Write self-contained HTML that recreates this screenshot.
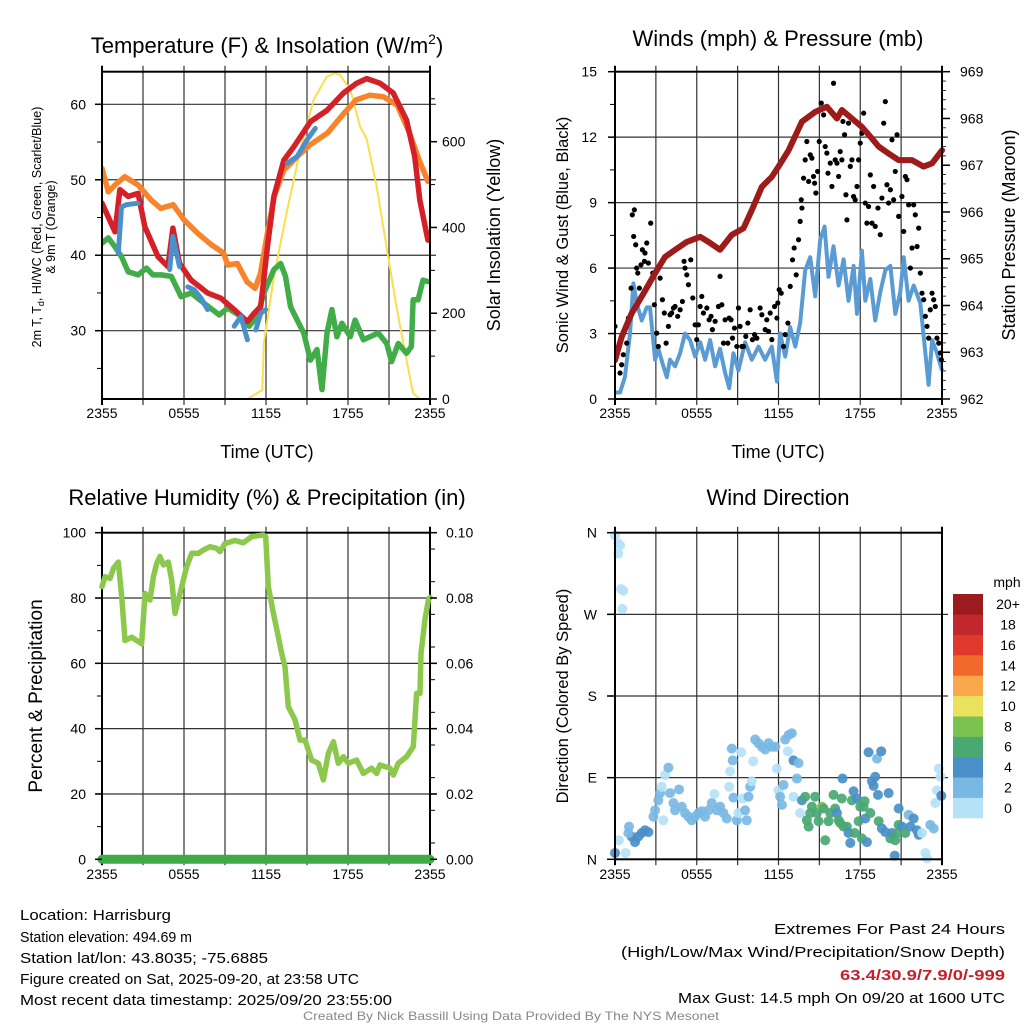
<!DOCTYPE html>
<html><head><meta charset="utf-8"><title>NYS Mesonet Harrisburg</title>
<style>
html,body{margin:0;padding:0;background:#fff;}
svg{display:block;font-family:"Liberation Sans",sans-serif;}
</style></head>
<body>
<svg id="chart" width="1024" height="1024" viewBox="0 0 1024 1024" xmlns="http://www.w3.org/2000/svg"></svg>
<script>
// ---------- Panel 1: temperature ----------
const t9mHours=[0,0.46,0.95,1.67,2.64,3.6,4.3,5.2,6.0,7.0,8.0,8.9,9.2,9.9,10.6,11.2,11.6,12.1,12.6,13.3,14.3,15.2,16.5,17.7,18.6,19.6,20.6,21.6,22.5,23.2,23.85];
const t9mValues=[51.5,48.4,49.3,50.4,49.3,47.3,46.2,46.7,44.7,42.9,41.4,40.3,38.7,38.9,36.5,35.6,37.6,42.9,47.8,51.3,53.1,54.6,56.2,58.8,60.6,61.2,61.0,59.9,56.2,52.6,49.8];
const t2mHours=[0,0.95,1.31,1.92,2.64,3.13,4.1,4.82,5.19,5.67,6.52,7.73,8.7,9.67,10.64,11.13,11.61,12.1,12.58,13.31,14.04,15.25,16.46,17.67,18.64,19.37,20.34,21.31,22.28,22.88,23.25,23.85];
const t2mValues=[46.9,43.1,48.7,47.8,48.2,43.8,39.8,38.5,43.6,38.9,36.7,35.0,34.3,32.8,31.2,32.3,33.2,41.1,47.8,52.6,54.4,57.7,59.2,61.5,62.8,63.4,62.8,61.5,57.9,53.1,47.3,42.0];
const wcSegments=[
 {hours:[1.19,1.43,1.79,2.64],values:[40.3,46.4,46.7,46.9]},
 {hours:[4.95,5.19,5.67],values:[38.1,42.5,38.5]},
 {hours:[6.28,6.76,7.25,7.73],values:[35.8,35.4,34.3,32.8]},
 {hours:[9.67,10.16,10.64],values:[30.6,31.9,28.8]},
 {hours:[11.25,11.61,11.98],values:[30.1,32.3,32.8]},
 {hours:[13.55,14.28,15.01,15.61],values:[52.2,53.1,55.3,56.8]}
];
const tdHours=[0,0.46,0.95,1.43,1.92,2.64,3.25,3.73,4.34,5.07,5.79,6.52,7.49,8.58,9.19,10.16,10.76,11.37,11.85,12.58,13.07,13.43,13.79,14.28,14.76,15.25,15.73,16.1,16.46,16.82,17.19,17.55,18.16,18.52,19.13,19.61,20.22,20.83,21.19,21.68,22.28,22.64,22.76,23.13,23.49,23.85];
const tdValues=[41.6,42.3,41.1,39.8,37.8,37.4,38.3,37.4,37.4,37.2,34.5,35.0,33.6,32.1,33.0,31.9,30.6,31.9,35.0,38.1,38.9,37.2,33.2,31.4,29.7,26.1,27.5,22.2,29.7,32.8,29.2,31.0,29.2,31.4,28.8,29.2,29.7,28.3,25.9,28.3,27.0,27.9,34.1,34.1,36.7,36.5];
const solarHours=[0,10.64,11.73,11.85,12.58,13.55,14.52,15.5,16.46,17.1,17.43,18.16,18.88,19.37,20.1,20.82,21.55,22.28,22.76,23.25,24];
const solarValues=[0,0,21,131,285,441,582,699,752,760,755,722,636,606,495,355,215,91,14,0,0];
const tTicks=[30,40,50,60];
const solarTicks=[0,200,400,600];
const timeTickLabels=["2355","0555","1155","1755","2355"];

// ---------- Panel 2: winds & pressure ----------
const windHours=[0,0.37,0.73,1.1,1.35,1.59,1.96,2.33,2.57,2.94,3.18,3.55,3.8,4.04,4.41,4.78,5.14,5.51,5.88,6.25,6.61,6.98,7.35,7.71,8.08,8.38,8.69,9.06,9.55,10.04,10.53,11.02,11.51,11.88,12.12,12.49,12.86,13.23,13.59,13.96,14.33,14.69,15.06,15.38,15.67,16.04,16.41,16.78,17.14,17.51,17.76,18.12,18.37,18.74,19.1,19.47,19.84,20.21,20.57,20.94,21.19,21.55,21.92,22.41,22.78,23.02,23.27,23.63,24];
const windValues=[0.3,0.3,1.0,3.0,5.3,4.4,3.6,4.2,4.2,1.8,2.3,1.5,1.0,1.8,1.5,2.1,3.0,2.7,1.95,2.6,1.8,2.7,1.5,2.3,1.2,0.5,2.1,1.3,2.6,1.8,2.4,1.8,2.4,0.8,3.0,1.95,3.3,2.4,3.5,5.9,6.5,4.7,7.3,7.9,5.6,7.0,5.2,6.4,4.5,6.1,3.9,6.8,4.5,5.5,3.6,4.9,5.9,6.1,3.9,4.9,6.5,4.5,5.2,4.4,2.1,0.65,2.7,2.1,1.3];
const gustHours=[0,0.12,0.37,0.49,0.61,0.86,0.98,1.18,1.27,1.42,1.37,1.52,1.59,1.67,1.79,1.91,2.01,2.2,2.33,2.16,2.45,2.62,2.77,2.89,3.06,3.18,3.31,3.48,3.62,3.75,3.92,4.04,4.16,4.29,4.41,4.6,4.78,4.95,5.07,5.14,5.27,5.39,5.56,5.71,5.88,6.0,6.12,6.25,6.37,6.49,6.74,6.91,7.05,7.15,7.35,7.59,7.71,7.84,7.96,8.08,8.28,8.38,8.52,8.62,8.77,8.94,9.06,9.18,9.31,9.43,9.6,9.75,9.92,10.09,10.24,10.41,10.65,10.78,11.02,11.14,11.27,11.39,11.51,11.71,11.88,11.95,12.05,12.2,12.37,12.49,12.69,12.86,13.03,13.15,13.3,13.47,13.59,13.72,13.67,13.84,13.96,14.08,14.21,14.33,14.45,14.57,14.65,14.74,14.87,14.99,15.14,15.31,15.43,15.55,15.63,15.8,15.92,16.04,16.16,16.29,16.41,16.53,16.65,16.73,16.85,16.95,17.02,17.14,17.27,17.39,17.51,17.63,17.76,17.88,18.0,18.12,18.25,18.37,18.49,18.61,18.74,18.86,18.98,19.1,19.3,19.47,19.59,19.72,19.84,19.96,20.08,20.21,20.33,20.45,20.57,20.7,20.82,20.94,21.06,21.19,21.31,21.43,21.55,21.68,21.8,21.92,22.04,22.17,22.29,22.41,22.53,22.66,22.78,22.9,23.02,23.14,23.27,23.39,23.51,23.63,23.76,23.88,23.95];
const gustValues=[3.33,2.11,1.19,1.57,2.03,2.56,3.71,5.08,8.44,8.67,7.45,7.07,6.0,5.77,5.08,6.15,6.84,6.69,7.15,6.31,6.23,8.06,5.77,4.32,3.02,2.41,5.54,4.55,3.94,2.56,3.33,3.86,3.94,4.17,4.24,3.79,4.09,4.47,6.31,6.0,5.69,5.24,6.38,4.63,3.4,2.72,3.4,4.24,4.7,3.94,4.17,3.63,3.79,3.18,3.56,4.24,5.62,4.32,2.56,3.63,2.56,3.71,3.63,2.79,3.25,2.41,4.17,3.33,2.41,2.41,2.87,3.48,4.09,2.72,2.95,2.79,4.17,3.86,3.18,3.63,3.1,3.94,2.72,4.24,3.71,4.4,5.01,4.85,2.41,2.95,3.48,5.16,6.38,6.92,5.69,7.3,8.14,8.75,9.13,10.12,10.96,11.8,9.97,11.19,11.04,10.2,9.89,9.44,10.43,11.8,13.56,13.02,11.57,11.27,10.35,10.81,9.74,14.47,10.96,10.81,10.2,11.34,10.96,12.72,12.11,9.36,8.21,12.64,10.66,10.96,9.28,9.13,9.74,10.96,11.73,12.18,13.1,8.98,8.06,8.82,10.27,8.06,9.74,7.91,8.75,7.53,9.21,12.64,13.63,9.82,8.98,9.59,11.88,9.13,10.43,12.11,8.37,10.96,9.28,7.68,10.2,10.05,8.9,6.0,6.92,8.9,8.44,6.99,7.83,5.77,4.85,4.55,3.79,3.33,2.79,4.09,4.85,4.55,4.24,2.79,2.56,2.11,1.8];
const presHours=[0,0.49,1.22,1.96,2.94,3.67,4.41,5.27,6.25,6.86,7.71,8.57,9.43,10.04,10.78,11.51,12.0,12.74,13.72,14.69,15.55,16.29,16.65,17.39,18.12,18.86,19.35,20.08,20.82,21.8,22.65,23.27,24];
const presValues=[962.83,963.33,963.83,964.19,964.69,965.04,965.19,965.36,965.47,965.36,965.19,965.51,965.65,966.04,966.54,966.75,966.97,967.32,967.93,968.14,968.25,968.0,968.18,968.0,967.82,967.57,967.4,967.25,967.11,967.11,966.97,967.04,967.32];
const windTicks=[0,3,6,9,12,15];
const presTicks=[962,963,964,965,966,967,968,969];

// ---------- Panel 3: RH & precip ----------
const rhHours=[0,0.22,0.59,0.83,1.19,1.44,1.68,2.17,2.54,2.9,3.15,3.51,3.76,4.0,4.24,4.49,4.85,5.1,5.34,5.59,5.83,6.2,6.56,7.05,7.42,7.9,8.39,8.63,9.0,9.73,10.34,10.95,11.8,11.98,12.17,12.54,12.85,13.15,13.39,13.63,14.12,14.49,14.85,15.34,15.83,16.2,16.56,16.93,17.29,17.66,18.02,18.63,19.12,19.73,20.1,20.34,21.07,21.32,21.68,22.29,22.78,23.02,23.27,23.34,23.63,23.88,24.0];
const rhValues=[83.5,86.5,86,89,91,80.4,67,68,67,66,81.4,79.4,86.5,90.6,92.7,90.1,91,85.5,75.3,79.4,83.5,89.6,93.7,93.7,94.7,95.7,95.2,94.2,96.7,97.6,96.9,98.8,99.3,98.8,83.5,75.3,69.2,63,58.9,46.7,42.7,36.5,36.5,30.4,29.4,24.3,32.4,36,29.4,31.4,29.4,30.4,26.3,27.9,26.3,28.9,27.9,25.8,29.4,31.4,34.5,50.8,50.8,63,73.3,79.4,80.2];
const precipHours=[0,24];
const precipValues=[0,0];
const rhTicks=[0,20,40,60,80,100];
const precipTickLabels=["0.00","0.02","0.04","0.06","0.08","0.10"];

// ---------- Panel 4: wind direction ----------
const dirHours=[0,0.24,0.37,0.24,0.44,0.61,0.54,0,0.29,0.78,1.03,1.22,1.47,1.71,1.96,2.2,2.45,0.98,2.82,2.94,3.18,3.31,3.43,3.55,3.67,3.92,4.04,4.29,4.41,4.7,4.9,5.14,5.39,5.63,5.88,6.12,6.37,6.61,6.86,7.1,7.3,7.47,7.71,7.96,8.2,8.38,8.45,8.57,8.64,8.69,8.94,9.06,9.26,9.36,9.55,9.67,9.8,9.92,10.04,10.14,10.29,10.53,10.78,11.02,11.27,11.51,11.76,11.88,12.0,12.12,12.25,12.37,12.49,12.74,12.98,12.69,13.1,13.47,13.35,13.1,13.59,13.72,13.96,14.08,14.21,14.33,14.45,14.69,14.82,14.94,15.18,15.31,15.43,15.67,15.8,16.04,16.16,16.29,16.41,16.53,16.65,16.7,16.78,17.02,17.14,17.27,17.39,17.51,17.59,17.76,17.88,18.0,18.12,18.25,18.32,18.37,18.49,18.61,18.74,18.86,18.98,19.1,19.23,19.3,19.35,19.54,19.59,19.84,20.08,20.21,20.33,20.53,20.57,20.7,20.82,20.82,21.06,21.31,21.55,21.68,21.92,22.16,22.29,22.53,22.78,22.9,23.14,23.39,23.51,23.63,23.76,23.88,23.95];
const dirDegrees=[357,348,346,337,298,296,276,7,21,7,36,25,19,25,29,32,30,29,47,54,65,73,80,43,93,101,73,62,54,77,58,51,47,43,47,51,53,47,54,62,72,54,58,51,45,80,97,122,109,68,43,51,118,67,54,43,69,80,86,108,132,128,124,121,128,124,124,100,76,69,60,82,132,137,139,119,109,106,89,69,51,65,69,43,36,51,58,69,51,42,58,56,21,42,51,71,56,51,43,40,67,89,36,36,29,18,65,75,29,67,42,58,23,58,64,45,19,118,51,86,81,91,111,71,42,119,34,30,73,23,29,4,21,29,56,38,36,29,49,36,45,32,27,29,7,1,38,34,62,76,100,91,70];
const dirSpeeds=[1,1,1,1,1,1,1,5,1,1,3,5,5,5,5,5,5,3,3,3,3,3,1,1,1,3,3,3,3,3,3,3,3,3,3,3,3,3,3,3,1,3,3,3,3,1,1,3,3,3,3,1,1,1,3,3,3,3,1,1,3,3,3,3,3,3,3,1,1,3,3,3,3,3,3,1,5,3,3,1,1,5,7,7,7,7,7,7,7,7,9,7,7,7,7,7,7,5,7,7,7,5,7,7,5,5,7,5,7,5,7,7,7,7,7,5,5,5,7,5,5,5,3,5,7,5,5,5,5,7,5,5,7,7,5,7,5,7,3,5,5,5,5,1,1,1,3,3,1,1,1,1,5];
const dirTickLabels=["N","E","S","W","N"];
const dirTickValues=[0,90,180,270,360];
const speedBins=["0","2","4","6","8","10","12","14","16","18","20+"];
const speedColors=["#b5e2f7","#7ab8e4","#4a8fc7","#4aa873","#7cc24e","#e9e25c","#f9a94a","#f26a2b","#e0382c","#c1272d","#9b1b1e"];

// ---------- drawing helpers ----------
const NS="http://www.w3.org/2000/svg";
const svg=document.getElementById('chart');
function el(tag,attrs,parent){const e=document.createElementNS(NS,tag);for(const k in attrs)e.setAttribute(k,attrs[k]);(parent||svg).appendChild(e);return e;}
function txt(s,attrs,parent){const e=el('text',attrs,parent);e.textContent=s;return e;}
function lin(d0,d1,r0,r1){return v=>r0+(v-d0)*(r1-r0)/(d1-d0);}
function pathD(xs,ys,fx,fy){let d='';for(let i=0;i<xs.length;i++){d+=(i?'L':'M')+fx(xs[i]).toFixed(1)+' '+fy(ys[i]).toFixed(1);}return d;}

function frame(g,x0,x1,y0,y1,hLines){
  for(let h=3;h<24;h+=3){const x=x0+(x1-x0)*h/24;
    const l=el('line',{x1:x,x2:x,y1:y0-6,y2:y1+6,stroke:'#333','stroke-width':1.2},g);
    
    }
  hLines.forEach(y=>{const l=el('line',{x1:x0-6,x2:x1+6,y1:y,y2:y,stroke:'#333','stroke-width':1.2},g);
    
    });
}
function border(g,x0,x1,y0,y1){
  const r=el('rect',{x:x0,y:y0,width:x1-x0,height:y1-y0,fill:'none',stroke:'#000','stroke-width':2},g);
  
  
  [x0,x1].forEach(x=>{const l=el('line',{x1:x,x2:x,y1:y0-6,y2:y1+6,stroke:'#000','stroke-width':2},g);
    
    });
}
function timeLabels(g,x0,x1,y){
  timeTickLabels.forEach((s,i)=>{const t=txt(s,{x:x0+(x1-x0)*i/4,y:y,'font-size':14,'text-anchor':'middle'},g);
    
    });
}
function rotLabel(g,s,x,y,size,name){
  const t=txt(s,{x:x,y:y,'font-size':size,'text-anchor':'middle',transform:`rotate(-90 ${x} ${y})`},g);
  
  return t;
}

// ===== Panel 1 =====
(function(){
  const g=el('g',{});
  const X0=102,X1=430,Y0=71.7,Y1=399;
  const fx=lin(0,24,X0,X1), fy=lin(30,60,330.7,104.3), fs=lin(0,600,399,141.7);
  frame(g,X0,X1,Y0,Y1,tTicks.map(fy));
  [25,35,45,55].forEach(v=>{const l=el('line',{x1:X0-5,x2:X0,y1:fy(v),y2:fy(v),stroke:'#000'},g);
    });
  [100,300,500,700].forEach(v=>{const l=el('line',{x1:X1,x2:X1+5,y1:fs(v),y2:fs(v),stroke:'#000'},g);
    });
  solarTicks.forEach(v=>{const l=el('line',{x1:X1,x2:X1+7,y1:fs(v),y2:fs(v),stroke:'#000','stroke-width':1.5},g);
    });
  const clip=el('clipPath',{id:'c1'},g);el('rect',{x:X0,y:Y0,width:X1-X0,height:Y1-Y0},clip);
  const pg=el('g',{'clip-path':'url(#c1)'},g);
  const common={fill:'none','stroke-linejoin':'round','stroke-linecap':'round'};
  let p=el('path',Object.assign({d:pathD(solarHours,solarValues,fx,fs),stroke:'#f9e04b','stroke-width':2},common),pg);
  
  p=el('path',Object.assign({d:pathD(t9mHours,t9mValues,fx,fy),stroke:'#f7842b','stroke-width':5.5},common),pg);
  
  p=el('path',Object.assign({d:pathD(tdHours,tdValues,fx,fy),stroke:'#41ad49','stroke-width':5.5},common),pg);
  
  p=el('path',Object.assign({d:pathD(t2mHours,t2mValues,fx,fy),stroke:'#d62027','stroke-width':5.5},common),pg);
  
  wcSegments.forEach(s=>{const q=el('path',Object.assign({d:pathD(s.hours,s.values,fx,fy),stroke:'#4a90cd','stroke-width':5},common),pg);
    });
  border(g,X0,X1,Y0,Y1);
  tTicks.forEach(v=>{const t=txt(String(v),{x:86,y:fy(v)+5,'font-size':14,'text-anchor':'end'},g);
    
    const l=el('line',{x1:X0-7,x2:X0,y1:fy(v),y2:fy(v),stroke:'#000','stroke-width':1.5},g);
    });
  solarTicks.forEach(v=>{const t=txt(String(v),{x:442,y:fs(v)+5,'font-size':14},g);
    });
  timeLabels(g,X0,X1,418);
  let t=txt('Time (UTC)',{x:267,y:458,'font-size':18,'text-anchor':'middle'},g);
  
  t=el('text',{x:267,y:53,'font-size':22,'text-anchor':'middle'},g);
  t.innerHTML='Temperature (F) &amp; Insolation (W/m<tspan dy="-9" font-size="14">2</tspan><tspan dy="9">)</tspan>';
  
  t=el('text',{x:41,y:227,'font-size':12.5,'text-anchor':'middle',transform:'rotate(-90 41 227)'},g);
  t.innerHTML='2m T, T<tspan dy="3" font-size="9">d</tspan><tspan dy="-3">, HI/WC (Red, Green, Scarlet/Blue)</tspan>';
  
  rotLabel(g,'& 9m T (Orange)',55,227,12.5,'y-axis-title-line2');
  rotLabel(g,'Solar Insolation (Yellow)',500,235,18,'y2-axis-title');
})();

// ===== Panel 2 =====
(function(){
  const g=el('g',{});
  const X0=615,X1=942,Y0=71.7,Y1=399;
  const fx=lin(0,24,X0,X1), fy=lin(0,15,Y1,Y0), fp=lin(962,969,Y1,Y0);
  frame(g,X0,X1,Y0,Y1,[3,6,9,12].map(fy));
  [1.5,4.5,7.5,10.5,13.5].forEach(v=>{const l=el('line',{x1:X0-5,x2:X0,y1:fy(v),y2:fy(v),stroke:'#000'},g);
    });
  for(let v=962.2;v<969;v+=0.2){const l=el('line',{x1:X1,x2:X1+4,y1:fp(v),y2:fp(v),stroke:'#000','stroke-width':0.8},g);
    }
  const clip=el('clipPath',{id:'c2'},g);el('rect',{x:X0,y:Y0-4,width:X1-X0+4,height:Y1-Y0+4},clip);
  const pg=el('g',{'clip-path':'url(#c2)'},g);
  let p=el('path',{d:pathD(windHours,windValues,fx,fy),fill:'none',stroke:'#5a9bd4','stroke-width':4,'stroke-linejoin':'round'},pg);
  
  gustHours.forEach((h,i)=>{const c=el('circle',{cx:fx(h),cy:fy(gustValues[i]),r:2.6,fill:'#000'},pg);
    });
  p=el('path',{d:pathD(presHours,presValues,fx,fp),fill:'none',stroke:'#9e1b1b','stroke-width':6,'stroke-linejoin':'round','stroke-linecap':'round'},pg);
  
  border(g,X0,X1,Y0,Y1);
  windTicks.forEach(v=>{const t=txt(String(v),{x:597,y:fy(v)+5,'font-size':14,'text-anchor':'end'},g);
    
    const l=el('line',{x1:X0-7,x2:X0,y1:fy(v),y2:fy(v),stroke:'#000','stroke-width':1.5},g);
    });
  presTicks.forEach(v=>{const t=txt(String(v),{x:960,y:fp(v)+5,'font-size':14},g);
    
    const l=el('line',{x1:X1,x2:X1+8,y1:fp(v),y2:fp(v),stroke:'#000','stroke-width':1.5},g);
    });
  timeLabels(g,X0,X1,418);
  let t=txt('Time (UTC)',{x:778,y:458,'font-size':18,'text-anchor':'middle'},g);
  
  t=txt('Winds (mph) & Pressure (mb)',{x:778,y:46,'font-size':22,'text-anchor':'middle'},g);
  
  rotLabel(g,'Sonic Wind & Gust (Blue, Black)',568,235,16.5,'y-axis-title');
  rotLabel(g,'Station Pressure (Maroon)',1015,235,18,'y2-axis-title');
})();

// ===== Panel 3 =====
(function(){
  const g=el('g',{});
  const X0=102,X1=430,Y0=532.7,Y1=859.3;
  const fx=lin(0,24,X0,X1), fy=lin(0,100,Y1,Y0), fq=lin(0,0.1,Y1,Y0);
  frame(g,X0,X1,Y0,Y1,[20,40,60,80].map(fy));
  [10,30,50,70,90].forEach(v=>{const l=el('line',{x1:X0-5,x2:X0,y1:fy(v),y2:fy(v),stroke:'#000'},g);
    });
  for(let v=5;v<100;v+=10){const l=el('line',{x1:X1,x2:X1+5,y1:fy(v),y2:fy(v),stroke:'#000'},g);
    }
  border(g,X0,X1,Y0,Y1);
  let p=el('path',{d:pathD(rhHours,rhValues,fx,fy),fill:'none',stroke:'#8cc84b','stroke-width':5.5,'stroke-linejoin':'round','stroke-linecap':'round'},g);
  
  p=el('path',{d:pathD(precipHours,precipValues,fx,fq),fill:'none',stroke:'#3faa46','stroke-width':9,'stroke-linecap':'round'},g);
  
  rhTicks.forEach((v,i)=>{const t=txt(String(v),{x:86,y:fy(v)+5,'font-size':14,'text-anchor':'end'},g);
    
    const l=el('line',{x1:X0-7,x2:X0,y1:fy(v),y2:fy(v),stroke:'#000','stroke-width':1.5},g);
    
    const t2=txt(precipTickLabels[i],{x:446,y:fy(v)+5,'font-size':14},g);
    
    const l2=el('line',{x1:X1,x2:X1+7,y1:fy(v),y2:fy(v),stroke:'#000','stroke-width':1.5},g);
    });
  timeLabels(g,X0,X1,879);
  let t=txt('Relative Humidity (%) & Precipitation (in)',{x:267,y:505,'font-size':22,'text-anchor':'middle'},g);
  
  rotLabel(g,'Percent & Precipitation',42,696,19,'y-axis-title');
})();

// ===== Panel 4 =====
(function(){
  const g=el('g',{});
  const X0=615,X1=942,Y0=532.7,Y1=859.3;
  const fx=lin(0,24,X0,X1), fy=lin(0,360,Y1,Y0);
  frame(g,X0,X1,Y0,Y1,[90,180,270].map(fy));
  dirHours.forEach((h,i)=>{const idx=Math.min(10,Math.floor(dirSpeeds[i]/2));
    const c=el('circle',{cx:fx(h),cy:fy(dirDegrees[i]),r:5,fill:speedColors[idx],'fill-opacity':0.92},g);
    });
  border(g,X0,X1,Y0,Y1);
  dirTickValues.forEach((v,i)=>{const t=txt(dirTickLabels[i],{x:597,y:fy(v)+5,'font-size':14,'text-anchor':'end'},g);
    
    const l=el('line',{x1:X0-8,x2:X0,y1:fy(v),y2:fy(v),stroke:'#000','stroke-width':1.5},g);
    });
  timeLabels(g,X0,X1,879);
  let t=txt('Wind Direction',{x:778,y:505,'font-size':22,'text-anchor':'middle'},g);
  
  rotLabel(g,'Direction (Colored By Speed)',568,696,16.5,'y-axis-title');
  const cb=el('g',{},g);
  const bh=(818-594)/speedBins.length;
  speedBins.forEach((s,i)=>{const y=818-(i+1)*bh;
    const r=el('rect',{x:953,y:y,width:30,height:bh+0.3,fill:speedColors[i]},cb);
    
    const t2=txt(s,{x:1008,y:y+bh/2+5,'font-size':14,'text-anchor':'middle'},cb);
    });
  t=txt('mph',{x:1007,y:587,'font-size':14,'text-anchor':'middle'},cb);
  
})();

// ===== Footer =====
(function(){
  const g=el('g',{});
  const left=[["Location: Harrisburg",151,920],["Station elevation: 494.69 m",172,942],["Station lat/lon: 43.8035; -75.6885",248,963],["Figure created on Sat, 2025-09-20, at 23:58 UTC",339,984],["Most recent data timestamp: 2025/09/20 23:55:00",372,1005]];
  left.forEach(a=>{const t=txt(a[0],{x:20,y:a[2],'font-size':15,textLength:a[1],lengthAdjust:'spacingAndGlyphs'},g);
    });
  const right=[["Extremes For Past 24 Hours",231,934,'#000','normal'],["(High/Low/Max Wind/Precipitation/Snow Depth)",384,957,'#000','normal'],["63.4/30.9/7.9/0/-999",165,980,'#c8202a','bold'],["Max Gust: 14.5 mph On 09/20 at 1600 UTC",327,1003,'#000','normal']];
  right.forEach(a=>{const t=txt(a[0],{x:1005-a[1],y:a[2],'font-size':15,fill:a[3],'font-weight':a[4],textLength:a[1],lengthAdjust:'spacingAndGlyphs'},g);
    });
  const t=txt('Created By Nick Bassill Using Data Provided By The NYS Mesonet',{x:303,y:1020,'font-size':12,fill:'#888',textLength:416,lengthAdjust:'spacingAndGlyphs'},g);
  
})();
</script>
</body></html>
